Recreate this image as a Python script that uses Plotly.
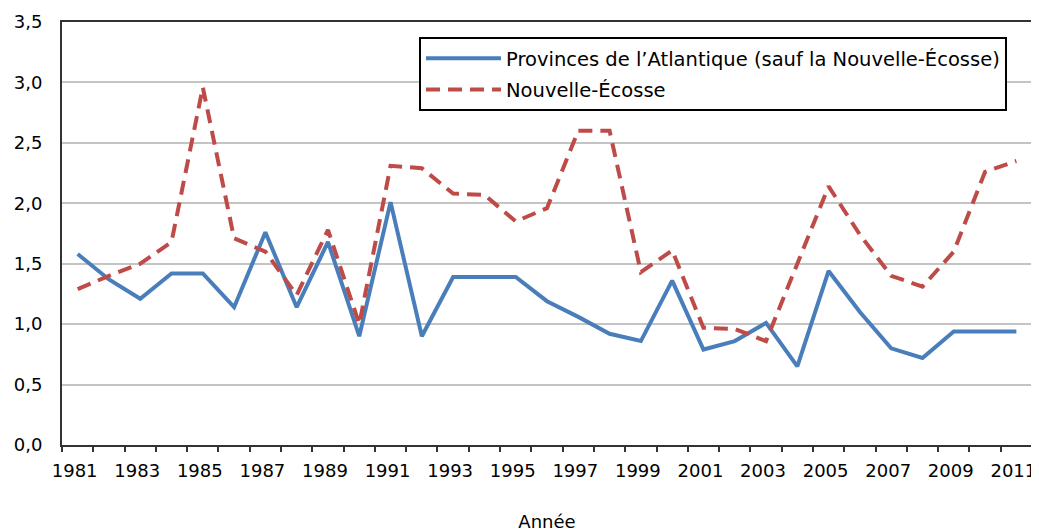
import plotly.graph_objects as go

years = list(range(1981, 2012))
atlantique = [1.58, 1.37, 1.21, 1.42, 1.42, 1.14, 1.76, 1.14, 1.68, 0.90,
              2.01, 0.90, 1.39, 1.39, 1.39, 1.19, 1.06, 0.92, 0.86, 1.36,
              0.79, 0.86, 1.01, 0.65, 1.44, 1.10, 0.80, 0.72, 0.94, 0.94, 0.94]
nouvelle_ecosse = [1.29, 1.40, 1.50, 1.68, 2.96, 1.71, 1.60, 1.24, 1.78, 1.00,
                   2.31, 2.29, 2.08, 2.07, 1.85, 1.96, 2.60, 2.60, 1.43, 1.61,
                   0.97, 0.96, 0.86, 1.49, 2.14, 1.74, 1.40, 1.31, 1.60, 2.26, 2.35]
tick_years = list(range(1981, 2012, 2))
y_ticks = [0, 0.5, 1.0, 1.5, 2.0, 2.5, 3.0, 3.5]

font = "DejaVu Sans"
fs = 18

# page body has an 8px default margin: size the figure so the plot area lands
# at x 62..1032, y 22..445 in the window
fig = go.Figure()
fig.add_trace(go.Scatter(x=years, y=atlantique, mode="lines",
                         name="Provinces de l\u2019Atlantique (sauf la Nouvelle-\u00c9cosse)",
                         legendgroup="a",
                         line=dict(color="#4A7EBB", width=4)))
fig.add_trace(go.Scatter(x=years, y=nouvelle_ecosse, mode="lines",
                         name="Nouvelle-\u00c9cosse", legendgroup="b",
                         line=dict(color="#BE4B48", width=4, dash="14px,8px")))

fig.update_layout(
    width=1031, height=524,
    margin=dict(l=54, r=7, t=14, b=87),
    paper_bgcolor="white", plot_bgcolor="white",
    separators=", ",
    font=dict(family=font, size=fs, color="#000000"),
    showlegend=True,
    legend=dict(x=(419 - 62) / 970, y=(445 - 37) / 423, xanchor="left", yanchor="top",
                bordercolor="#000000", borderwidth=2, bgcolor="white",
                font=dict(family=font, size=19.5, color="#000000"),
                tracegroupgap=3, itemwidth=75),
    xaxis=dict(range=[1980.5, 2011.5], tickvals=tick_years,
               ticktext=[str(y) for y in tick_years], ticks="",
               showgrid=False, zeroline=False, automargin=False,
               ticklabeloverflow="allow", ticklabelstandoff=8,
               ticklabelshift=-3,
               showline=True, linecolor="#333333", linewidth=2, mirror=True,
               minor=dict(tick0=1980.5, dtick=1, ticks="outside", ticklen=5,
                          tickcolor="#333333", tickwidth=1.5, showgrid=False),
               tickfont=dict(family=font, size=fs),
               title=dict(text="Ann\u00e9e", standoff=47,
                          font=dict(family=font, size=fs))),
    yaxis=dict(range=[0, 3.5], tickvals=y_ticks, tickformat=".1f",
               showgrid=True, gridcolor="#C4C4C4", gridwidth=1.5,
               zeroline=False, ticks="", automargin=False,
               ticklabelstandoff=14,
               showline=True, linecolor="#333333", linewidth=2, mirror=True,
               tickfont=dict(family=font, size=fs)),
)

fig.write_html("out.html")
